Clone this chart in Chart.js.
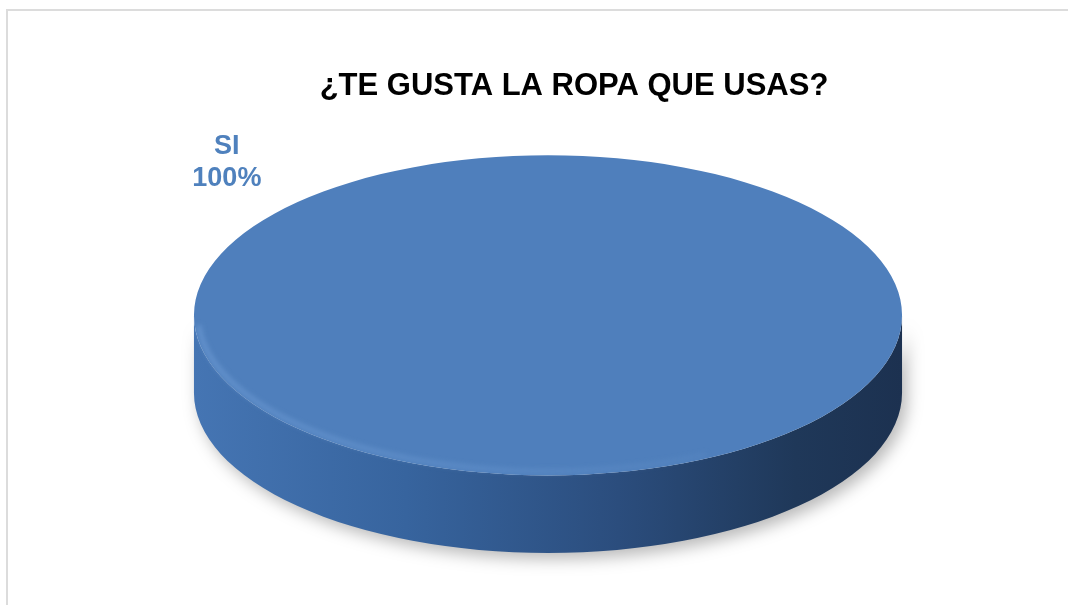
<!DOCTYPE html>
<html>
<head>
<meta charset="utf-8">
<script src="https://cdn.jsdelivr.net/npm/chart.js@4/dist/chart.umd.min.js"></script>
<style>
  html, body { margin: 0; padding: 0; background: #fff; }
  #wrap { position: relative; width: 1068px; height: 605px; overflow: hidden; }
  #marco { position: absolute; left: 6px; top: 9px; width: 1100px; height: 700px;
           border-left: 2px solid #dcdcdc; border-top: 2px solid #dcdcdc; }
  canvas { position: absolute; left: 0; top: 0; }
</style>
</head>
<body>
<div id="wrap">
  <div id="marco"></div>
  <canvas id="myGraficRopa" width="1068" height="605"></canvas>
</div>
<script>
// Datos de la grafica
let titulo = '¿TE GUSTA LA ROPA QUE USAS?';
let categorias = ['SI'];
let valores = [100];
let colores = ['#4f7fbc'];

// Plugin para dibujar el pastel en 3D (disco inclinado)
const pastel3d = {
  id: 'pastel3d',
  beforeDatasetsDraw(chart) {
    const arc = chart.getDatasetMeta(0).data[0];
    if (!arc) return;
    const ctx = chart.ctx;
    const r = arc.outerRadius;
    const prof = r * 0.39;          // grosor del disco
    const rx = r * 1.78;
    const ry = r - prof / 2;
    const cx = arc.x - 26;
    const cy = arc.y - prof / 2;
    chart.$p3d = { cx, cy, rx, ry, prof, r };

    // lateral con sombra
    ctx.save();
    ctx.shadowColor = 'rgba(0,0,0,0.28)';
    ctx.shadowBlur = 16;
    ctx.shadowOffsetX = 5;
    ctx.shadowOffsetY = 6;
    ctx.beginPath();
    ctx.ellipse(cx, cy, rx, ry, 0, 0, Math.PI, false);
    ctx.lineTo(cx - rx, cy + prof);
    ctx.ellipse(cx, cy + prof, rx, ry, 0, Math.PI, 0, true);
    ctx.closePath();
    let g = ctx.createLinearGradient(cx - rx, 0, cx + rx, 0);
    g.addColorStop(0, '#4575b3');
    g.addColorStop(0.3, '#37649e');
    g.addColorStop(0.6, '#2b4d7d');
    g.addColorStop(0.85, '#1f3859');
    g.addColorStop(1, '#1c3150');
    ctx.fillStyle = g;
    ctx.fill();
    ctx.restore();

    // la cara superior se dibuja aplastada
    ctx.save();
    ctx.translate(cx, cy);
    ctx.scale(rx / r, ry / r);
    ctx.translate(-arc.x, -arc.y);
  },
  afterDatasetsDraw(chart) {
    const p = chart.$p3d;
    if (!p) return;
    const ctx = chart.ctx;
    ctx.restore();

    // brillo suave en el borde frontal
    ctx.save();
    let b = ctx.createLinearGradient(p.cx - p.rx, 0, p.cx + p.rx, 0);
    b.addColorStop(0, 'rgba(125,170,225,0.45)');
    b.addColorStop(0.5, 'rgba(120,165,220,0.25)');
    b.addColorStop(1, 'rgba(110,150,200,0.0)');
    ctx.strokeStyle = b;
    ctx.lineWidth = 5;
    ctx.filter = 'blur(2.5px)';
    ctx.beginPath();
    ctx.ellipse(p.cx, p.cy, p.rx - 4, p.ry - 4, 0, 0.35 * Math.PI, 0.98 * Math.PI, false);
    ctx.stroke();
    ctx.restore();

    // etiqueta de la categoria
    const total = valores.reduce((a, v) => a + v, 0);
    const ang = -133 * Math.PI / 180;
    const lx = p.cx + 1.33 * p.rx * Math.cos(ang);
    const ly = p.cy + 1.33 * p.ry * Math.sin(ang) + 3;
    ctx.save();
    ctx.fillStyle = '#4f81bd';
    ctx.font = 'bold 27px "Liberation Sans", Arial, sans-serif';
    ctx.textAlign = 'center';
    ctx.textBaseline = 'middle';
    ctx.fillText(categorias[0], lx, ly - 16);
    ctx.fillText(Math.round(valores[0] / total * 100) + '%', lx, ly + 16);
    ctx.restore();
  }
};

let myChartRopa = {
  // Tipo de Grafica
  type: 'pie',
  // Le pasamos la data
  data: {
    labels: categorias,
    datasets: [{
      data: valores,
      backgroundColor: colores,
      borderWidth: 0,
      clip: false
    }]
  },
  options: {
    responsive: false,
    animation: false,
    devicePixelRatio: 1,
    layout: { padding: { left: 80, right: 0, top: 0, bottom: 52 } },
    plugins: {
      legend: { display: false },
      tooltip: { enabled: false },
      title: {
        display: true,
        text: titulo,
        color: '#000',
        font: { family: '"Liberation Sans", Arial, sans-serif', size: 31, weight: 'bold' },
        padding: { top: 68, bottom: 50 }
      }
    }
  },
  plugins: [pastel3d]
};
// Seleccionamos el Canvas
var myGraficRopa = document.getElementById('myGraficRopa');
window.pie = new Chart(myGraficRopa, myChartRopa);
</script>
</body>
</html>
